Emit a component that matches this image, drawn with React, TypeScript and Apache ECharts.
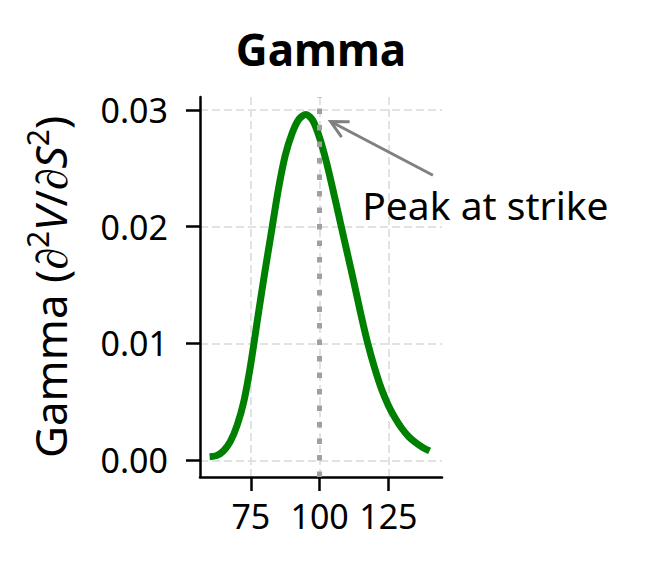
import { useEffect, useRef } from 'react';
import * as echarts from 'echarts';

// underlying price S and the gamma
const spot = [
  60, 62.5, 65, 67.5, 70, 72.5, 75, 77.5, 80, 82.5, 85, 87.5, 90, 92.5, 95, 97.5,
  100, 102.5, 105, 107.5, 110, 112.5, 115, 117.5, 120, 122.5, 125, 127.5, 130,
  132.5, 135, 137.5, 140,
];
const gamma = [
  0.0003, 0.0004, 0.0008, 0.0016, 0.003, 0.0051, 0.0083, 0.0122, 0.016, 0.0196,
  0.0232, 0.0261, 0.028, 0.0292, 0.0296, 0.0291, 0.0276, 0.0255, 0.023, 0.0204,
  0.0178, 0.0152, 0.0125, 0.01, 0.0079, 0.0061, 0.0047, 0.0036, 0.0027, 0.002,
  0.0015, 0.0011, 0.0008,
];
const xTicks = [75, 100, 125];
const yTicks = [0, 0.01, 0.02, 0.03];
const strike = 100;

// annotation, in data units
const noteText = 'Peak at strike';
const notePos = [115.5, 0.0219];
const arrowTail = [141.2, 0.0244];
const arrowTip = [104, 0.029];

const FONT = 'Noto Sans';

export default function App() {
  const ref = useRef<HTMLDivElement>(null);

  useEffect(() => {
    document.body.style.margin = '0';
    if (!ref.current) return;
    const chart = echarts.init(ref.current, null, { renderer: 'svg' });

    const axisLine = { onZero: false, lineStyle: { color: '#000', width: 2.5 } };
    const tick = { length: 14, lineStyle: { color: '#000', width: 2.5 } };
    const grid = { lineStyle: { color: '#e2e2e2', width: 2, type: [8, 4] } };

    chart.setOption({
      animation: false,
      textStyle: { fontFamily: FONT },
      grid: { left: 200, top: 97, width: 242, height: 380 },
      xAxis: {
        type: 'value',
        min: 56.5,
        max: 144.5,
        axisLine,
        axisTick: { ...tick, customValues: xTicks },
        axisLabel: { customValues: xTicks, fontSize: 34, color: '#000', margin: 22 },
        splitLine: { show: true, ...grid },
      },
      yAxis: {
        type: 'value',
        min: -0.00143,
        max: 0.0311,
        axisLine: { show: true, ...axisLine },
        axisTick: { show: true, ...tick, customValues: yTicks },
        axisLabel: {
          customValues: yTicks,
          fontSize: 34,
          color: '#000',
          margin: 32,
          formatter: (v: number) => v.toFixed(2),
        },
        splitLine: { show: true, ...grid },
        name: '{n|Gamma (∂}{s|2}{i|V}{n|/∂}{i|S}{s|2}{n|)}',
        nameLocation: 'middle',
        nameGap: 122,
        nameTextStyle: {
          color: '#000',
          fontSize: 44,
          rich: {
            n: { fontSize: 44, color: '#000', lineHeight: 56 },
            i: { fontSize: 44, color: '#000', fontStyle: 'italic', lineHeight: 56 },
            s: { fontSize: 30, color: '#000', verticalAlign: 'top', lineHeight: 30 },
          },
        },
      },
      series: [
        {
          type: 'line',
          data: spot.map((s, i) => [s, gamma[i]]),
          showSymbol: false,
          smooth: 0.3,
          lineStyle: { color: '#008000', width: 7 },
          markLine: {
            silent: true,
            symbol: 'none',
            label: { show: false },
            lineStyle: { color: '#a0a0a0', width: 5, type: [5.5, 11] },
            data: [{ xAxis: strike }],
          },
        },
      ],
    });

    const tip = chart.convertToPixel({ gridIndex: 0 }, arrowTip) as number[];
    const tail = chart.convertToPixel({ gridIndex: 0 }, arrowTail) as number[];
    const note = chart.convertToPixel({ gridIndex: 0 }, notePos) as number[];
    const dx = tail[0] - tip[0];
    const dy = tail[1] - tip[1];
    const len = Math.hypot(dx, dy);
    const ux = dx / len;
    const uy = dy / len;
    const arm = (a: number) => {
      const c = Math.cos(a);
      const s = Math.sin(a);
      return [tip[0] + 19 * (ux * c - uy * s), tip[1] + 19 * (ux * s + uy * c)];
    };
    const headA = (27 * Math.PI) / 180;

    chart.setOption({
      graphic: [
        {
          type: 'text',
          style: {
            text: 'Gamma',
            x: 321,
            y: 49,
            fontFamily: FONT,
            fontSize: 44,
            fontWeight: 'bold',
            fill: '#000',
            align: 'center',
            verticalAlign: 'middle',
            textAlign: 'center',
            textVerticalAlign: 'middle',
          },
        },
        {
          type: 'text',
          style: {
            text: noteText,
            x: note[0],
            y: note[1],
            fontFamily: FONT,
            fontSize: 39,
            fill: '#000',
            align: 'left',
            verticalAlign: 'middle',
            textAlign: 'left',
            textVerticalAlign: 'middle',
          },
        },
        {
          type: 'line',
          shape: { x1: tail[0], y1: tail[1], x2: tip[0], y2: tip[1] },
          style: { stroke: '#808080', lineWidth: 3 },
        },
        {
          type: 'polyline',
          shape: { points: [arm(headA), tip, arm(-headA)] },
          style: { stroke: '#808080', lineWidth: 3, fill: null },
        },
      ],
    });

    return () => {
      chart.dispose();
    };
  }, []);

  return <div ref={ref} style={{ width: 653, height: 574 }} />;
}
